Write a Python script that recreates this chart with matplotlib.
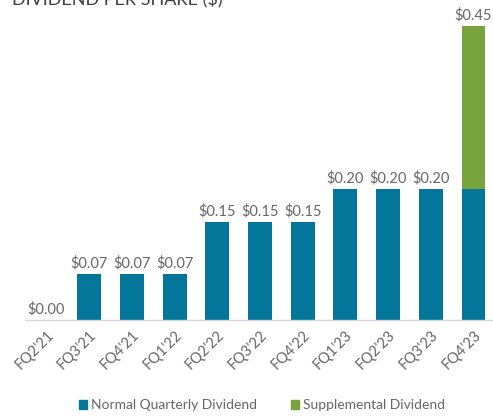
import matplotlib.pyplot as plt
from matplotlib.patches import Patch

# ------------------------------
# Datos
# ------------------------------
quarters = ["FQ2'21", "FQ3'21", "FQ4'21", "FQ1'22", "FQ2'22", "FQ3'22",
            "FQ4'22", "FQ1'23", "FQ2'23", "FQ3'23", "FQ4'23"]
normal_div = [0.00, 0.07, 0.07, 0.07, 0.15, 0.15, 0.15, 0.20, 0.20, 0.20, 0.20]
supplemental_div = [0, 0, 0, 0, 0, 0, 0, 0, 0, 0, 0.25]
labels = ["$0.00", "$0.07", "$0.07", "$0.07", "$0.15", "$0.15", "$0.15",
          "$0.20", "$0.20", "$0.20", "$0.45"]

blue = "#03769a"
green = "#78a43e"
grey_text = "#666666"

plt.rcParams['font.family'] = ['Lato', 'DejaVu Sans']

fig = plt.figure(figsize=(4.93, 4.17), dpi=100)
W, H = 493, 417
# ejes en coordenadas de pixel
left, right, top, bottom = 25, 493, 6, 320
ax = fig.add_axes([left / W, (H - bottom) / H, (right - left) / W, (bottom - top) / H])

x = list(range(len(quarters)))
ax.bar(x, normal_div, width=0.56, color=blue, zorder=2)
ax.bar(x, supplemental_div, width=0.56, bottom=normal_div, color=green, zorder=2)

totals = [n + s for n, s in zip(normal_div, supplemental_div)]
for xi, t, lab in zip(x, totals, labels):
    ax.text(xi, t + 0.006, lab, ha='center', va='bottom', fontsize=10.5, color=grey_text)

# escala: centro de la primera barra a 46.5 px, paso 42.7 px
step = 42.7
x0 = (left - 46.5) / step
ax.set_xlim(x0, x0 + (right - left) / step)
ax.set_ylim(0, (bottom - top) / 653.0)

ax.set_xticks(x)
ax.set_xticklabels(quarters, rotation=45, ha='right', rotation_mode='anchor',
                   fontsize=10.5, color=grey_text)
ax.tick_params(axis='x', length=0, pad=6)
ax.set_yticks([])
for s in ['top', 'right', 'left']:
    ax.spines[s].set_visible(False)
ax.spines['bottom'].set_color("#d9d9d9")
ax.spines['bottom'].set_linewidth(1)

fig.text(12 / W, (H - 5) / H, "DIVIDEND PER SHARE ($)", fontsize=13,
         color="#404040", va='baseline', ha='left')

handles = [Patch(color=blue, label="Normal Quarterly Dividend"),
           Patch(color=green, label="Supplemental Dividend")]
fig.legend(handles=handles, loc='center', bbox_to_anchor=(262 / W, (H - 405) / H),
           ncol=2, frameon=False, fontsize=10, handlelength=0.6, handleheight=0.6,
           handletextpad=0.3, columnspacing=2.4, labelcolor=grey_text)

fig.savefig("out.png", dpi=100)
